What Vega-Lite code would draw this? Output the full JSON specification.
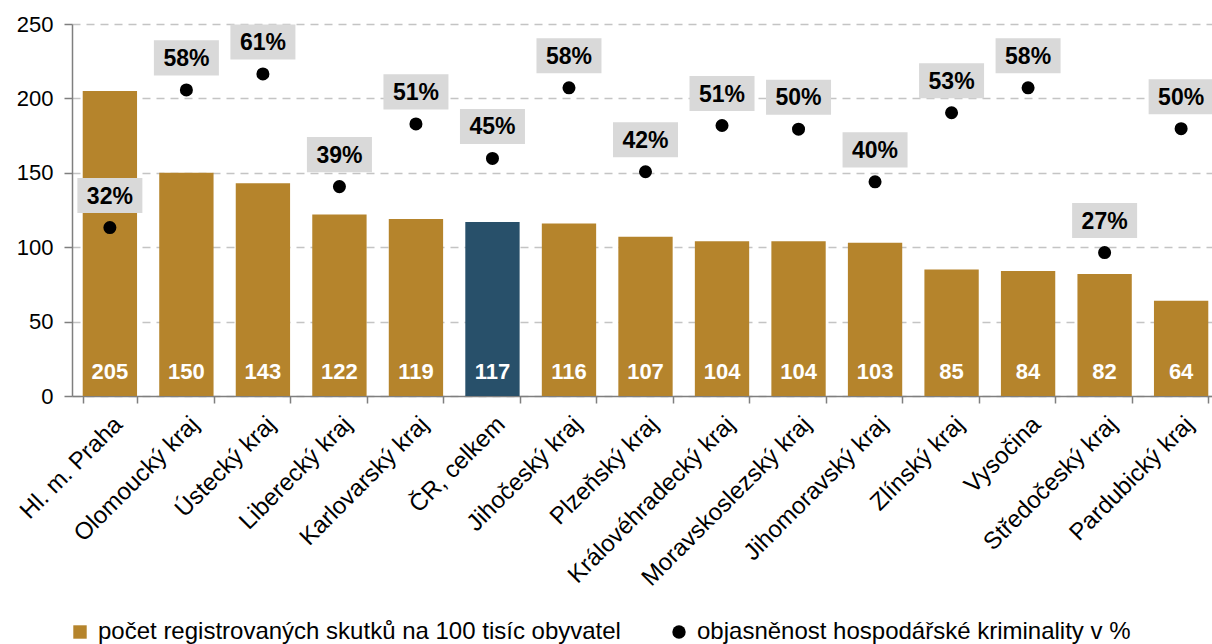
{
  "$schema": "https://vega.github.io/schema/vega-lite/v6.json",
  "width": 1147,
  "height": 372,
  "autosize": {"type": "none"},
  "padding": {"left": 72, "top": 24, "right": -7, "bottom": 248},
  "background": "white",
  "config": {"font": "Liberation Sans", "view": {"stroke": null}},
  "data": {
    "values": [
      {"kraj": "Hl. m. Praha", "pocet": 205, "obj": 0.317},
      {"kraj": "Olomoucký kraj", "pocet": 150, "obj": 0.576},
      {"kraj": "Ústecký kraj", "pocet": 143, "obj": 0.606},
      {"kraj": "Liberecký kraj", "pocet": 122, "obj": 0.394},
      {"kraj": "Karlovarský kraj", "pocet": 119, "obj": 0.512},
      {"kraj": "ČR, celkem", "pocet": 117, "obj": 0.447},
      {"kraj": "Jihočeský kraj", "pocet": 116, "obj": 0.58},
      {"kraj": "Plzeňský kraj", "pocet": 107, "obj": 0.422},
      {"kraj": "Královéhradecký kraj", "pocet": 104, "obj": 0.509},
      {"kraj": "Moravskoslezský kraj", "pocet": 104, "obj": 0.502},
      {"kraj": "Jihomoravský kraj", "pocet": 103, "obj": 0.403},
      {"kraj": "Zlínský kraj", "pocet": 85, "obj": 0.533},
      {"kraj": "Vysočina", "pocet": 84, "obj": 0.58},
      {"kraj": "Středočeský kraj", "pocet": 82, "obj": 0.27},
      {"kraj": "Pardubický kraj", "pocet": 64, "obj": 0.503}
    ]
  },
  "encoding": {
    "x": {
      "field": "kraj",
      "type": "nominal",
      "sort": null,
      "scale": {"paddingInner": 0.29, "paddingOuter": 0.14},
      "axis": {
        "title": null,
        "labelAngle": -45,
        "labelAlign": "right",
        "labelBaseline": "top",
        "labelFontSize": 24,
        "labelColor": "#000000",
        "labelPadding": 9,
        "labelLimit": 400,
        "domainColor": "#7f7f7f",
        "domainWidth": 1.5,
        "tickColor": "#7f7f7f",
        "tickWidth": 1.5,
        "tickSize": 7,
        "tickBand": "extent"
      }
    }
  },
  "layer": [
    {
      "layer": [
        {
          "mark": {"type": "bar"},
          "encoding": {
            "y": {
              "field": "pocet",
              "type": "quantitative",
              "scale": {"domain": [0, 250], "nice": false},
              "axis": {
                "title": null,
                "values": [0, 50, 100, 150, 200, 250],
                "labelFontSize": 22,
                "labelColor": "#000000",
                "labelPadding": 11,
                "tickSize": 8,
                "tickColor": "#7f7f7f",
                "tickWidth": 1.5,
                "domainColor": "#7f7f7f",
                "domainWidth": 1.5,
                "gridColor": "#c4c4c4",
                "gridDash": [8, 6],
                "gridWidth": 1.5
              }
            },
            "color": {
              "condition": {"test": "datum.kraj === 'ČR, celkem'", "value": "#28506A"},
              "datum": "počet registrovaných skutků na 100 tisíc obyvatel",
              "type": "nominal",
              "scale": {
                "domain": ["počet registrovaných skutků na 100 tisíc obyvatel", "objasněnost hospodářské kriminality v %"],
                "range": ["#B5842C", "#000000"]
              },
              "legend": {
                "orient": "none",
                "legendX": -4,
                "legendY": 596,
                "direction": "horizontal",
                "title": null,
                "padding": 0,
                "labelFontSize": 24,
                "labelColor": "#000000",
                "labelLimit": 800,
                "labelOffset": 6,
                "symbolSize": 180,
                "symbolStrokeWidth": 0,
                "columnPadding": 46,
                "encode": {
                  "symbols": {
                    "update": {
                      "shape": {"signal": "datum.value === 'objasněnost hospodářské kriminality v %' ? 'circle' : 'square'"}
                    }
                  }
                }
              }
            }
          }
        },
        {
          "mark": {"type": "text", "color": "#ffffff", "fontWeight": "bold", "fontSize": 22, "baseline": "middle", "dy": -24},
          "encoding": {
            "y": {"datum": 0, "type": "quantitative"},
            "text": {"field": "pocet", "type": "quantitative"}
          }
        }
      ]
    },
    {
      "layer": [
        {
          "mark": {"type": "point", "filled": true, "size": 170, "opacity": 1},
          "encoding": {
            "y": {"field": "obj", "type": "quantitative", "scale": {"domain": [0, 0.7], "nice": false}, "axis": null},
            "color": {"datum": "objasněnost hospodářské kriminality v %", "type": "nominal"}
          }
        },
        {
          "mark": {"type": "point", "shape": "M-1,-0.54H1V0.54H-1Z", "filled": true, "color": "#D9D9D9", "size": 4225, "opacity": 1, "yOffset": -32},
          "encoding": {
            "y": {"field": "obj", "type": "quantitative"}
          }
        },
        {
          "mark": {"type": "text", "color": "#000000", "fontWeight": "bold", "fontSize": 23, "baseline": "middle", "dy": -31},
          "encoding": {
            "y": {"field": "obj", "type": "quantitative"},
            "text": {"field": "obj", "type": "quantitative", "format": ".0%"}
          }
        }
      ]
    }
  ],
  "resolve": {"scale": {"y": "independent"}}
}
